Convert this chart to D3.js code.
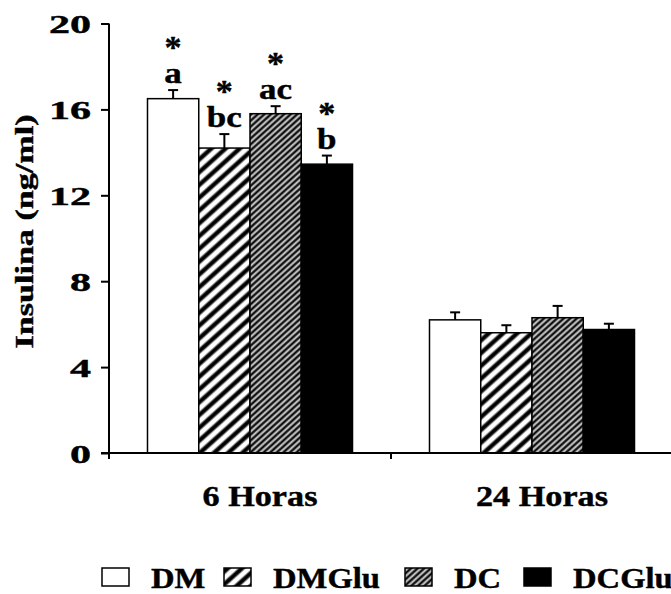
<!DOCTYPE html>
<html>
<head>
<meta charset="utf-8">
<script src="https://cdn.jsdelivr.net/npm/d3@7"></script>
<style>
  html, body { margin: 0; padding: 0; background: #fff; }
  svg { display: block; }
  svg text { font-family: "Times New Roman", "Liberation Serif", Tinos, Times, "Nimbus Roman", "DejaVu Serif", serif; font-weight: 700; fill: #000; stroke: #000; stroke-width: 0.4px; }
</style>
</head>
<body>
<svg id="chart" width="671" height="594"></svg>
<script>
// Insulin (ng/ml) by treatment group at 6 h and 24 h
const periods = ["6 Horas", "24 Horas"];
const groups = ["DM", "DMGlu", "DC", "DCGlu"];
const means6h = [16.5, 14.2, 15.8, 13.45];
const sem6h = [0.4, 0.65, 0.35, 0.4];
const means24h = [6.2, 5.6, 6.3, 5.75];
const sem24h = [0.35, 0.35, 0.55, 0.27];
const letters6h = ["a", "bc", "ac", "b"];
const stars6h = ["*", "*", "*", "*"];
const letters24h = ["", "", "", ""];
const stars24h = ["", "", "", ""];
const yTicks = [0, 4, 8, 12, 16, 20];

const rows = [];
periods.forEach((p, i) => {
  const m = i === 0 ? means6h : means24h;
  const e = i === 0 ? sem6h : sem24h;
  const l = i === 0 ? letters6h : letters24h;
  const s = i === 0 ? stars6h : stars24h;
  groups.forEach((g, j) => rows.push({ period: p, group: g, mean: m[j], sem: e[j], letter: l[j], star: s[j] }));
});

const svg = d3.select("#chart");
const defs = svg.append("defs");

// Width of a string at a given font size
const probe = svg.append("text").attr("visibility", "hidden");
function natural(str, size) {
  probe.style("font-size", size + "px").text(str);
  return probe.node().getComputedTextLength();
}
// Stretch each text of a selection by the factor that brings refStr to refWidth
function stretch(sel, size, refStr, refWidth) {
  const k = refWidth / natural(refStr, size);
  sel.style("font-size", size + "px").each(function () {
    const w = natural(this.textContent, size) * k;
    d3.select(this).attr("textLength", w).attr("lengthAdjust", "spacingAndGlyphs");
  });
}

// diagonal stripe fills
function stripes(id, period, dark, angle) {
  const pat = defs.append("pattern")
    .attr("id", id)
    .attr("patternUnits", "userSpaceOnUse")
    .attr("width", 20).attr("height", period)
    .attr("patternTransform", `rotate(${-angle})`);
  pat.append("rect").attr("width", 20).attr("height", period).attr("fill", "#fff");
  const y0 = (period - dark) / 2;
  pat.append("rect").attr("x", 0).attr("y", y0 - 0.9).attr("width", 20).attr("height", dark + 1.8).attr("fill", "#777");
  pat.append("rect").attr("x", 0).attr("y", y0).attr("width", 20).attr("height", dark).attr("fill", "#000");
}
stripes("hatchWide", 9.5, 3.4, 42);
stripes("hatchFine", 4.4, 1.7, 42);

const fills = { DM: "#fff", DMGlu: "url(#hatchWide)", DC: "url(#hatchFine)", DCGlu: "#000" };

const y = d3.scaleLinear().domain([0, 20]).range([453, 23.5]);
const x0 = d3.scaleBand().domain(periods).range([109, 673]).paddingInner(0.273).paddingOuter(0.1365);
const x1 = d3.scaleBand().domain(groups).range([0, x0.bandwidth()]);

// bars
svg.append("g").selectAll("rect").data(rows).join("rect")
  .attr("x", d => x0(d.period) + x1(d.group))
  .attr("y", d => y(d.mean))
  .attr("width", x1.bandwidth())
  .attr("height", d => y(0) - y(d.mean))
  .attr("fill", d => fills[d.group])
  .attr("stroke", "#000")
  .attr("stroke-width", 1.5);

// error bars (upper)
const eb = svg.append("g").attr("stroke", "#000").attr("stroke-width", 2);
rows.forEach(d => {
  const cx = x0(d.period) + x1(d.group) + x1.bandwidth() / 2;
  eb.append("line").attr("x1", cx).attr("x2", cx).attr("y1", y(d.mean)).attr("y2", y(d.mean + d.sem));
  eb.append("line").attr("x1", cx - 5).attr("x2", cx + 5).attr("y1", y(d.mean + d.sem)).attr("y2", y(d.mean + d.sem));
});

// significance letters and stars
const ann = svg.append("g").attr("text-anchor", "middle");
rows.forEach(d => {
  const cx = x0(d.period) + x1(d.group) + x1.bandwidth() / 2;
  const base = y(d.mean + d.sem) - 7;
  if (d.letter) ann.append("text").attr("class", "letter").attr("x", cx).attr("y", base).text(d.letter);
  if (d.star) ann.append("text").attr("class", "star").attr("x", cx).attr("y", base - 25).text(d.star);
});
stretch(ann.selectAll(".letter"), 29, "bc", 35);
stretch(ann.selectAll(".star"), 32, "*", 17);

// y axis
const yAxis = svg.append("g").attr("transform", "translate(109,0)")
  .call(d3.axisLeft(y).tickValues(yTicks).tickSize(8).tickSizeOuter(0).tickFormat(""));
yAxis.select(".domain").remove();
yAxis.selectAll(".tick line").attr("stroke", "#000").attr("stroke-width", 2);
svg.append("line").attr("x1", 109).attr("x2", 109).attr("y1", y(20)).attr("y2", y(0) + 6)
  .attr("stroke", "#000").attr("stroke-width", 2);
const tickLabels = svg.append("g").selectAll("text").data(yTicks).join("text")
  .attr("text-anchor", "end")
  .attr("x", 91)
  .attr("y", d => y(d) + 9.5)
  .text(d => d);
stretch(tickLabels, 25, "20", 42);

// y axis title
const yTitle = svg.append("text")
  .attr("text-anchor", "middle")
  .attr("transform", "translate(33,231.5) rotate(-90)")
  .text("Insulina (ng/ml)");
stretch(yTitle, 24.5, "Insulina (ng/ml)", 234);

// x axis
svg.append("line").attr("x1", 101).attr("x2", 671).attr("y1", y(0)).attr("y2", y(0))
  .attr("stroke", "#000").attr("stroke-width", 2);
const bounds = periods.map(p => x0(p) - (x0.step() - x0.bandwidth()) / 2);
svg.append("g").selectAll("line").data(bounds).join("line")
  .attr("x1", d => d).attr("x2", d => d).attr("y1", y(0)).attr("y2", y(0) + 6)
  .attr("stroke", "#000").attr("stroke-width", 2);
const catLabels = svg.append("g").selectAll("text").data(periods).join("text")
  .attr("text-anchor", "middle")
  .attr("x", p => x0(p) + x0.bandwidth() / 2 + 10)
  .attr("y", 506)
  .text(p => p);
stretch(catLabels, 29, "24 Horas", 132);

// legend: swatch left edges along the bottom row
const legendSlots = [102, 224, 405, 524];
const lg = svg.append("g");
groups.forEach((g, i) => {
  const lx = legendSlots[i];
  lg.append("rect").attr("x", lx).attr("y", 568).attr("width", 27).attr("height", 18)
    .attr("fill", fills[g]).attr("stroke", "#000").attr("stroke-width", 1.5);
  lg.append("text").attr("class", "legend-label").attr("x", lx + 49).attr("y", 588).text(g);
});
stretch(lg.selectAll(".legend-label"), 28.5, "DMGlu", 107);
probe.remove();
</script>
</body>
</html>
